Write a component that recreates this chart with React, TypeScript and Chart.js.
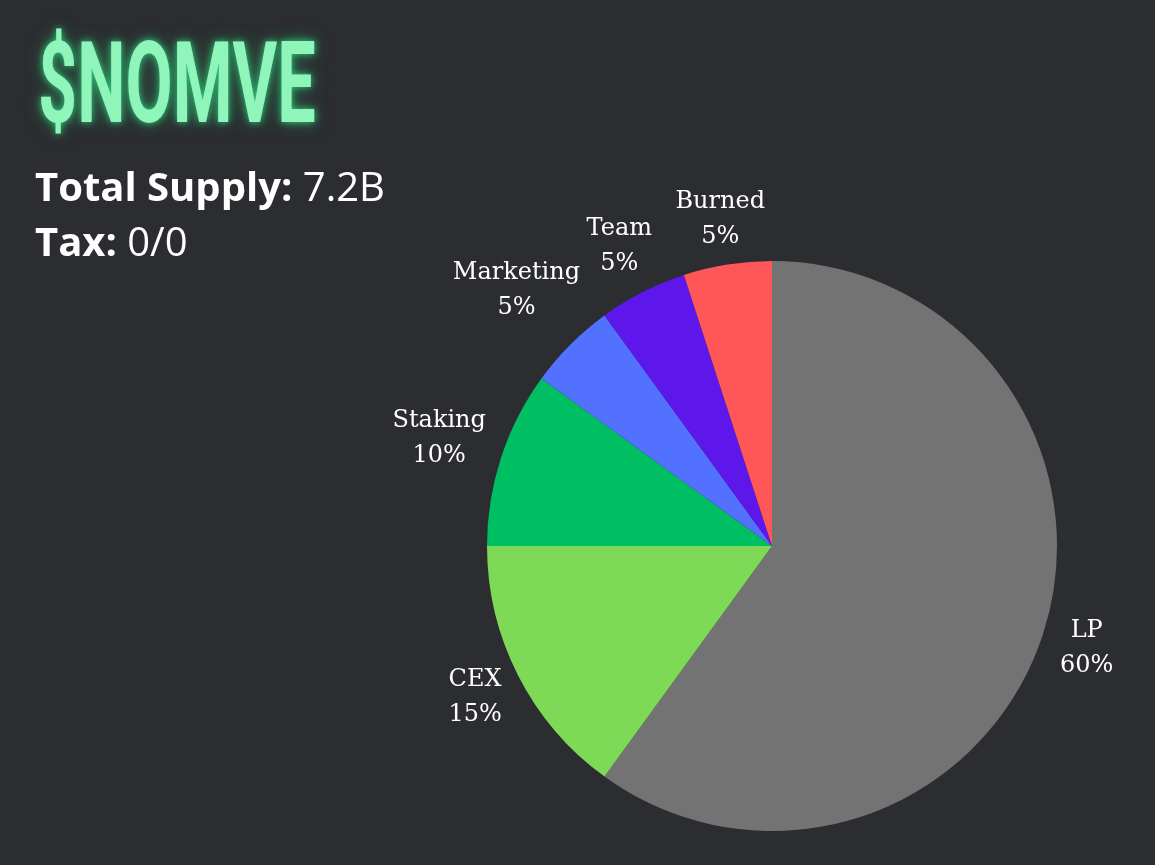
import React, { useEffect, useRef } from "react";
import { Chart, registerables } from "chart.js";

Chart.register(...registerables);

const categories = ["LP", "CEX", "Staking", "Marketing", "Team", "Burned"];
const shares = [60, 15, 10, 5, 5, 5];
const colors = ["#737373", "#7ed957", "#00bf63", "#5271ff", "#5e17eb", "#ff5757"];

const outsideLabels = {
  id: "outsideLabels",
  afterDatasetsDraw(chart: any) {
    const ctx = chart.ctx;
    const meta = chart.getDatasetMeta(0);
    const data = chart.data.datasets[0].data as number[];
    const labels = chart.data.labels as string[];
    ctx.save();
    ctx.fillStyle = "#ffffff";
    ctx.font = "24px 'DejaVu Serif'";
    ctx.textAlign = "center";
    ctx.textBaseline = "middle";
    const lineH = 35;
    meta.data.forEach((arc: any, i: number) => {
      const p = arc.getProps(["x", "y", "startAngle", "endAngle", "outerRadius"], true);
      const mid = (p.startAngle + p.endAngle) / 2;
      const l1 = labels[i];
      const l2 = data[i] + "%";
      const w = Math.max(ctx.measureText(l1).width, ctx.measureText(l2).width);
      const h = lineH + 20;
      const c = Math.cos(mid), s = Math.sin(mid);
      const proj = (w / 2) * Math.abs(c) + (h / 2) * Math.abs(s);
      const d = p.outerRadius + 12 + proj;
      const cx = p.x + c * d;
      const cy = p.y + s * d;
      ctx.fillText(l1, cx, cy - lineH / 2);
      ctx.fillText(l2, cx, cy + lineH / 2);
    });
    ctx.restore();
  },
};

export default function App() {
  const ref = useRef<HTMLCanvasElement>(null);
  useEffect(() => {
    document.body.style.margin = "0";
    const chart = new Chart(ref.current!, {
      type: "pie",
      data: {
        labels: categories,
        datasets: [{ data: shares, backgroundColor: colors, borderWidth: 0 }],
      },
      options: {
        animation: false,
        responsive: false,
        layout: { padding: { left: 487, right: 98, top: 261, bottom: 34 } },
        plugins: { legend: { display: false }, tooltip: { enabled: false } },
      },
      plugins: [outsideLabels],
    });
    return () => chart.destroy();
  }, []);
  return (
    <div
      style={{
        position: "fixed",
        left: 0,
        top: 0,
        width: 1155,
        height: 865,
        background: "#2b2d30",
        overflow: "hidden",
      }}
    >
      <canvas ref={ref} width={1155} height={865} style={{ position: "absolute", left: 0, top: 0 }} />
      <div
        style={{
          position: "absolute",
          left: 38,
          top: 18,
          fontFamily: "Roboto",
          fontWeight: 700,
          fontSize: 114,
          lineHeight: "130px",
          color: "#8ff5bb",
          textShadow: "0 0 10px #2ecf7a, 0 0 22px rgba(46,207,122,0.45)",
          transform: "scaleX(0.6)",
          transformOrigin: "left top",
          whiteSpace: "nowrap",
        }}
      >
        $NOMVE
      </div>
      <div
        style={{
          position: "absolute",
          left: 35,
          top: 158,
          fontFamily: "'Open Sans'",
          fontSize: 40,
          lineHeight: "55px",
          color: "#ffffff",
          whiteSpace: "nowrap",
        }}
      >
        <div>
          <b style={{ fontWeight: 700 }}>Total Supply:</b> <span style={{ fontWeight: 400 }}>7.2B</span>
        </div>
        <div>
          <b style={{ fontWeight: 700 }}>Tax:</b> <span style={{ fontWeight: 400 }}>0/0</span>
        </div>
      </div>
    </div>
  );
}
